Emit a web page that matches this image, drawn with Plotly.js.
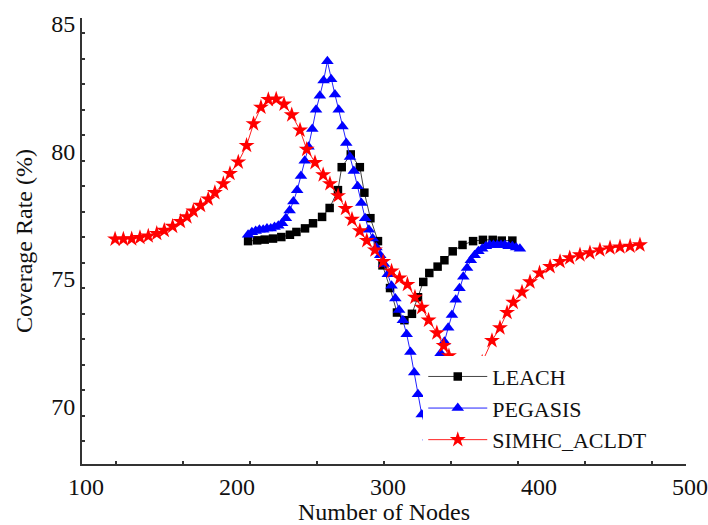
<!DOCTYPE html>
<html>
<head>
<meta charset="utf-8">
<script src="https://cdn.plot.ly/plotly-3.0.1.min.js"></script>
<style>html,body{margin:0;padding:0;background:#fff;}#chart{width:708px;height:525px;}</style>
</head>
<body>
<div id="chart"></div>
<script>
// LEACH (black squares)
var leachX = [210, 216, 221, 226.5, 232, 237.7, 242, 247.7, 253, 259, 264, 269.5, 272, 278, 284, 287, 291, 296, 299, 304, 308.6, 313.5, 318.5, 322.5, 326, 330, 335.5, 340, 345.5, 352, 359, 365.5, 372, 378, 385];
var leachY = [76.6, 76.63, 76.66, 76.7, 76.76, 76.85, 76.96, 77.1, 77.3, 77.55, 77.9, 78.6, 79.5, 80.0, 79.5, 78.5, 77.5, 76.6, 75.65, 74.76, 73.8, 73.5, 73.75, 74.4, 75.0, 75.35, 75.6, 75.85, 76.2, 76.45, 76.6, 76.65, 76.65, 76.62, 76.62];

// PEGASIS (blue triangles)
var pegasisX = [210, 212.5, 215, 217.5, 220, 222.5, 225, 227.5, 230, 232.5, 235, 237.5, 240, 242.5, 245, 247.5, 250, 252.5, 255, 257.5, 260, 262.5, 265, 267.5, 270, 272.5, 275, 277.5, 280, 282.5, 285, 287.5, 290, 292.5, 295, 297.5, 300, 302.5, 305, 307.5, 310, 312.5, 315, 317.5, 320, 322.5, 325, 329.5, 331.5, 333.5, 335.5, 337.5, 340, 342.5, 345, 347.5, 350, 352.5, 355, 357.5, 360, 362.5, 365, 367.5, 370, 372.5, 375, 377.5, 380, 382.5, 385, 387.5, 390];
var pegasisY = [76.85, 76.95, 77.0, 77.05, 77.05, 77.1, 77.1, 77.15, 77.2, 77.3, 77.5, 77.8, 78.15, 78.6, 79.15, 79.75, 80.3, 81.0, 81.75, 82.3, 82.9, 83.65, 82.95, 82.35, 81.75, 81.1, 80.45, 79.9, 79.35, 78.75, 78.1, 77.5, 77.05, 76.7, 76.35, 76.05, 75.7, 75.3, 74.85, 74.35, 73.9, 73.5, 72.95, 72.25, 71.45, 70.6, 69.8, 68.9, 68.5, 69.8, 71.8, 72.2, 72.65, 73.2, 73.7, 74.3, 74.75, 75.2, 75.55, 75.85, 76.05, 76.2, 76.3, 76.4, 76.45, 76.45, 76.45, 76.45, 76.45, 76.4, 76.4, 76.35, 76.3];

// SIMHC_ACLDT (red stars)
var simhcX = [121.9, 127.4, 132.9, 138.4, 143.9, 149.5, 154.5, 160, 165.2, 169.5, 173.7, 178.5, 183.6, 188, 193.6, 198, 203.5, 209, 213.6, 218.5, 223.4, 228.6, 233.8, 238.9, 244.4, 248.8, 254.3, 259.7, 264.2, 269.6, 274.5, 278.8, 284, 288.6, 294, 299.5, 305, 310.3, 315.5, 320.5, 325, 329.5, 335, 339.5, 343, 347, 352, 357, 361, 365, 371.5, 376.8, 381.5, 385.6, 391.4, 396.7, 403, 410, 416.6, 423, 429.8, 436.4, 443, 449.7, 456.3, 463, 469.5];
var simhcY = [76.68, 76.68, 76.69, 76.74, 76.8, 76.9, 77.02, 77.18, 77.37, 77.55, 77.78, 78.0, 78.25, 78.5, 78.85, 79.25, 79.7, 80.35, 81.2, 81.85, 82.15, 82.17, 81.97, 81.55, 80.95, 80.2, 79.68, 79.2, 78.85, 78.38, 77.88, 77.45, 77.0, 76.62, 76.25, 75.8, 75.42, 75.15, 74.9, 74.4, 74.0, 73.5, 73.0, 72.5, 72.1, 71.6, 70.8, 70.3, 70.9, 71.85, 72.7, 73.2, 73.8, 74.2, 74.6, 75.0, 75.35, 75.6, 75.8, 75.94, 76.06, 76.14, 76.25, 76.33, 76.37, 76.4, 76.45];

var xTicks = [100, 200, 300, 400, 500];
var yTicks = [70, 75, 80, 85];

var FONT = 'Liberation Serif, Times New Roman, serif';

var traces = [
  {name: 'LEACH', x: leachX, y: leachY, type: 'scatter', mode: 'lines+markers',
   line: {color: '#444444', width: 1}, marker: {symbol: 'square', size: 8.5, color: '#000000', line: {width: 0}}},
  {name: 'PEGASIS', x: pegasisX, y: pegasisY, type: 'scatter', mode: 'lines+markers',
   line: {color: '#2222ff', width: 1}, marker: {symbol: 'triangle-up', size: 11, color: '#0000ff', line: {width: 0}}},
  {name: 'SIMHC_ACLDT', x: simhcX, y: simhcY, type: 'scatter', mode: 'lines+markers',
   line: {color: '#ff2222', width: 1}, marker: {symbol: 'star', size: 12, color: '#ff0000', line: {width: 0}}}
];

var layout = {
  width: 708, height: 525,
  margin: {l: 82, r: 22, t: 18, b: 61},
  paper_bgcolor: '#ffffff', plot_bgcolor: '#ffffff',
  font: {family: FONT, color: '#111111', size: 24},
  showlegend: true,
  legend: {x: 0.565, y: 0.0075, xanchor: 'left', yanchor: 'bottom', bgcolor: '#ffffff',
           borderwidth: 0, font: {family: FONT, size: 22, color: '#111111'}, itemwidth: 59,
           tracegroupgap: 0},
  xaxis: {range: [100, 500], tickvals: xTicks, ticktext: xTicks.map(String), ticks: '',
          ticklabelshift: 4,
          showline: true, linecolor: '#333333', linewidth: 2, showgrid: false, zeroline: false,
          tickfont: {family: FONT, size: 24, color: '#111111'},
          minor: {tick0: 122.5, dtick: 44.4, ticks: 'inside', ticklen: 3, tickcolor: '#333333', tickwidth: 2, showgrid: false},
          title: {text: 'Number of Nodes', font: {family: FONT, size: 24, color: '#111111'}, standoff: 4}},
  yaxis: {range: [67.86, 85.35], tickvals: yTicks, ticktext: yTicks.map(String), ticks: '',
          ticklabelshift: -3,
          showline: true, linecolor: '#333333', linewidth: 2, showgrid: false, zeroline: false,
          tickfont: {family: FONT, size: 24, color: '#111111'},
          minor: {tick0: 0.75, dtick: 1, ticks: 'inside', ticklen: 3, tickcolor: '#333333', tickwidth: 2, showgrid: false},
          title: {text: 'Coverage Rate (%)', font: {family: FONT, size: 24, color: '#111111'}, standoff: 12}}
};

Plotly.newPlot('chart', traces, layout, {displayModeBar: false, staticPlot: true});
</script>
</body>
</html>
